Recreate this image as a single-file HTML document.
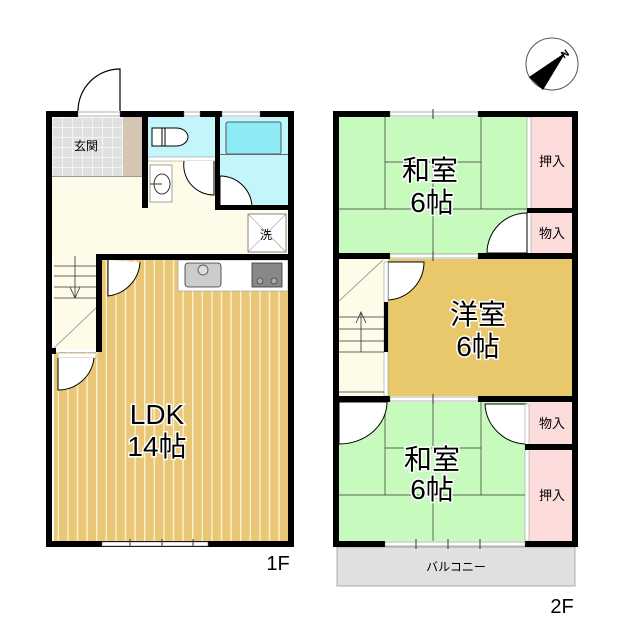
<!DOCTYPE html>
<html><head><meta charset="utf-8"><style>
html,body{margin:0;padding:0;background:#fff;}
svg{display:block;}
text{font-family:"Liberation Sans","Noto Sans CJK JP",sans-serif;}
</style></head><body>
<svg width="640" height="640" viewBox="0 0 640 640" xmlns="http://www.w3.org/2000/svg">
<defs>
<pattern id="wood" x="0" y="0" width="9.6" height="10" patternUnits="userSpaceOnUse">
<rect width="9.6" height="10" fill="#e9c777"/>
<rect x="0" width="1.4" height="10" fill="#fbf0d0"/>
</pattern>
<pattern id="tile" x="52" y="117" width="10" height="10" patternUnits="userSpaceOnUse">
<rect width="10" height="10" fill="#e0e0e0"/>
<rect width="10" height="1" fill="#f4f4f4"/><rect width="1" height="10" fill="#f4f4f4"/>
</pattern>
</defs>

<circle cx="552" cy="64" r="26" fill="#fff" stroke="#555" stroke-width="1"/>
<polygon points="566,52 529,77 543,90" fill="#000"/>
<text x="561" y="57" font-size="10" font-weight="bold" transform="rotate(-35 565 53)">N</text>

<path d="M78,111 A42,42 0 0 1 120,69 L120,111" fill="#fff" stroke="#000" stroke-width="1.2"/>
<rect x="52" y="117" width="236" height="139" fill="#fefce8"/>
<rect x="52" y="117" width="71" height="60" fill="url(#tile)"/>
<rect x="123" y="117" width="19" height="60" fill="#d4c5b5"/>
<rect x="52" y="176" width="90" height="1" fill="#999"/>
<rect x="148" y="117" width="68" height="40" fill="#c2f6fb"/>
<rect x="148" y="157" width="68" height="4" fill="#fff" stroke="#888" stroke-width="0.5"/>
<rect x="220" y="117" width="68" height="88" fill="#c2f6fb"/>
<rect x="226" y="122" width="55" height="32" rx="2" fill="#8eeaf4" stroke="#333" stroke-width="0.8"/>
<rect x="220" y="154" width="68" height="1" fill="#666"/>
<path d="M152,128 L176,128 A12,9 0 0 1 176,146 L152,146 Z" fill="#fff" stroke="#000" stroke-width="1"/>
<line x1="162" y1="128" x2="162" y2="146" stroke="#000"/><line x1="165" y1="128" x2="165" y2="146" stroke="#000"/>
<rect x="150" y="165" width="22" height="37" fill="#fff" stroke="#666" stroke-width="0.6"/>
<ellipse cx="162" cy="184" rx="8" ry="10" fill="#fff" stroke="#333"/>
<line x1="150" y1="184" x2="162" y2="184" stroke="#333"/>
<path d="M184,161 A30,30 0 0 0 214,195 L214,161" fill="#fff" stroke="#000" stroke-width="1"/>
<path d="M220,176 A32,32 0 0 1 252,208 L220,208 Z" fill="#fff" stroke="#000" stroke-width="1"/>
<rect x="248" y="214" width="38" height="38" fill="#fff" stroke="#666" stroke-width="0.8"/>
<line x1="248" y1="214" x2="286" y2="252" stroke="#999" stroke-width="0.6"/>
<line x1="286" y1="214" x2="248" y2="252" stroke="#999" stroke-width="0.6"/>
<text x="266" y="239" font-size="12" text-anchor="middle">洗</text>
<rect x="102" y="260" width="186" height="281" fill="url(#wood)"/>
<rect x="54" y="352" width="48" height="189" fill="url(#wood)"/>
<rect x="178" y="260" width="110" height="31" fill="#fff" stroke="#999" stroke-width="0.6"/>
<rect x="185" y="263" width="36" height="24" rx="3" fill="#ccc" stroke="#333" stroke-width="0.8"/>
<circle cx="203" cy="270" r="5" fill="#ddd" stroke="#333" stroke-width="0.7"/>
<rect x="252" y="263" width="30" height="24" fill="#888" stroke="#333" stroke-width="0.8"/>
<circle cx="260" cy="281" r="3" fill="#aaa" stroke="#333" stroke-width="0.6"/>
<circle cx="274" cy="281" r="3" fill="#aaa" stroke="#333" stroke-width="0.6"/>
<path d="M108,260 L108,296 A36,36 0 0 0 140,262" fill="#fff" stroke="#000" stroke-width="1"/>
<rect x="54" y="256" width="42" height="94" fill="#fefce8"/>
<g stroke="#333" stroke-width="0.8">
<line x1="54" y1="266" x2="96" y2="266"/><line x1="54" y1="276" x2="96" y2="276"/>
<line x1="54" y1="287" x2="96" y2="287"/><line x1="54" y1="298" x2="96" y2="298"/>
<line x1="75" y1="256" x2="75" y2="298"/><polyline points="70,287 75,298 80,287" fill="none"/>
<line x1="54" y1="348" x2="96" y2="308" stroke="#888"/>
</g>
<rect x="58" y="353" width="38" height="5" fill="#fff" stroke="#888" stroke-width="0.5"/>
<path d="M58,358 L58,390 A36,36 0 0 0 94,358" fill="#fff" stroke="#000" stroke-width="1"/>
<g fill="#000">
<rect x="46" y="111" width="6" height="436"/>
<rect x="288" y="111" width="6" height="436"/>
<rect x="46" y="541" width="248" height="6"/>
<rect x="46" y="111" width="32" height="6"/>
<rect x="120" y="111" width="64" height="6"/>
<rect x="200" y="111" width="22" height="6"/>
<rect x="260" y="111" width="34" height="6"/>
<rect x="142" y="111" width="6" height="97"/>
<rect x="215" y="111" width="5" height="99"/>
<rect x="215" y="205" width="79" height="5"/>
<rect x="96" y="254" width="198" height="6"/>
<rect x="96" y="254" width="6" height="98"/>
<rect x="46" y="348" width="10" height="6"/>
</g>
<rect x="78" y="112" width="42" height="4" fill="#fff" stroke="#666" stroke-width="0.5"/>
<rect x="184" y="112" width="16" height="4" fill="#fff" stroke="#666" stroke-width="0.5"/>
<rect x="222" y="112" width="38" height="4" fill="#fff" stroke="#666" stroke-width="0.5"/>
<rect x="102" y="542" width="106" height="4" fill="#fff" stroke="#666" stroke-width="0.5"/>
<g stroke="#333"><line x1="130" y1="539" x2="130" y2="547"/><line x1="162" y1="539" x2="162" y2="547"/><line x1="193" y1="539" x2="193" y2="547"/></g>
<text x="86" y="150" font-size="12" text-anchor="middle">玄関</text>
<g font-size="28" text-anchor="middle" fill="#000" stroke="#fff" stroke-width="3" paint-order="stroke">
<text x="157" y="424">LDK</text><text x="157" y="456">14帖</text>
</g>
<text x="278" y="570" font-size="20" text-anchor="middle">1F</text>

<rect x="337" y="547" width="238" height="39" fill="#e0e0e0" stroke="#999" stroke-width="0.8"/>
<text x="456" y="571" font-size="12" text-anchor="middle">バルコニー</text>
<rect x="339" y="117" width="188" height="137" fill="#c6fbbd"/>
<g stroke="#333" stroke-width="0.7" fill="none">
<line x1="385" y1="117" x2="385" y2="209"/><line x1="481" y1="117" x2="481" y2="209"/>
<line x1="385" y1="162" x2="481" y2="162"/><line x1="339" y1="209" x2="527" y2="209"/>
<line x1="433" y1="162" x2="433" y2="254"/>
</g>
<rect x="529" y="117" width="43" height="91" fill="#fddcdc"/>
<rect x="529" y="213" width="43" height="41" fill="#fddcdc"/>
<rect x="527" y="117" width="4" height="137" fill="#fff" stroke="#888" stroke-width="0.5"/>
<path d="M527,213 A40,40 0 0 0 487,253 L527,253 Z" fill="#fff" stroke="#000" stroke-width="1"/>
<text x="552" y="166" font-size="13" text-anchor="middle">押入</text>
<text x="552" y="238" font-size="13" text-anchor="middle">物入</text>
<rect x="388" y="259" width="184" height="137" fill="#e9c86b"/>
<path d="M388,262 L388,300 A38,38 0 0 0 424,262 Z" fill="#fff" stroke="#000" stroke-width="1"/>
<rect x="339" y="259" width="45" height="137" fill="#fefce8"/>
<rect x="384" y="262" width="4" height="134" fill="#fff" stroke="#888" stroke-width="0.5"/>
<g stroke="#333" stroke-width="0.8" fill="none">
<line x1="339" y1="301" x2="383" y2="260" stroke="#888"/>
<line x1="339" y1="317" x2="384" y2="317"/><line x1="339" y1="329" x2="384" y2="329"/>
<line x1="339" y1="341" x2="384" y2="341"/><line x1="339" y1="352" x2="384" y2="352"/>
<line x1="361" y1="312" x2="361" y2="352"/><polyline points="356,323 361,312 366,323"/>
<line x1="339" y1="392" x2="384" y2="392"/>
</g>
<rect x="339" y="402" width="188" height="139" fill="#c6fbbd"/>
<g stroke="#333" stroke-width="0.7" fill="none">
<line x1="385" y1="402" x2="385" y2="495"/><line x1="481" y1="402" x2="481" y2="495"/>
<line x1="385" y1="448" x2="481" y2="448"/><line x1="339" y1="495" x2="527" y2="495"/>
<line x1="433" y1="402" x2="433" y2="448"/><line x1="433" y1="495" x2="433" y2="541"/>
</g>
<path d="M339,402 L387,402 A48,42 0 0 1 339,444 Z" fill="#fff" stroke="#000" stroke-width="1"/>
<path d="M527,404 L485,404 A42,42 0 0 0 527,444 Z" fill="#fff" stroke="#000" stroke-width="1"/>
<rect x="529" y="402" width="43" height="42" fill="#fddcdc"/>
<rect x="529" y="450" width="43" height="91" fill="#fddcdc"/>
<rect x="525" y="404" width="4" height="137" fill="#fff" stroke="#888" stroke-width="0.5"/>
<text x="552" y="428" font-size="13" text-anchor="middle">物入</text>
<text x="552" y="500" font-size="13" text-anchor="middle">押入</text>
<g fill="#000">
<rect x="333" y="111" width="6" height="436"/>
<rect x="572" y="111" width="6" height="436"/>
<rect x="333" y="111" width="57" height="6"/>
<rect x="478" y="111" width="100" height="6"/>
<rect x="333" y="253" width="57" height="6"/>
<rect x="478" y="253" width="100" height="6"/>
<rect x="527" y="208" width="51" height="5"/>
<rect x="333" y="396" width="57" height="6"/>
<rect x="478" y="396" width="100" height="6"/>
<rect x="525" y="444" width="53" height="6"/>
<rect x="384" y="302" width="4" height="50"/>
<rect x="333" y="541" width="52" height="6"/>
<rect x="525" y="541" width="53" height="6"/>
</g>
<g fill="#fff" stroke="#666" stroke-width="0.5">
<rect x="390" y="112" width="88" height="4"/><rect x="390" y="254" width="88" height="4"/>
<rect x="390" y="397" width="88" height="4"/><rect x="385" y="542" width="140" height="4"/>
</g>
<g stroke="#333"><line x1="433" y1="109" x2="433" y2="119"/><line x1="433" y1="251" x2="433" y2="261"/>
<line x1="433" y1="394" x2="433" y2="404"/><line x1="416" y1="539" x2="416" y2="549"/>
<line x1="448" y1="539" x2="448" y2="549"/><line x1="480" y1="539" x2="480" y2="549"/></g>
<g font-size="28" text-anchor="middle" fill="#000" stroke="#fff" stroke-width="3" paint-order="stroke">
<text x="430" y="180">和室</text><text x="432" y="212">6帖</text>
<text x="478" y="324">洋室</text><text x="478" y="356">6帖</text>
<text x="432" y="469">和室</text><text x="432" y="499">6帖</text>
</g>
<text x="562" y="613" font-size="20" text-anchor="middle">2F</text>
</svg>
</body></html>
